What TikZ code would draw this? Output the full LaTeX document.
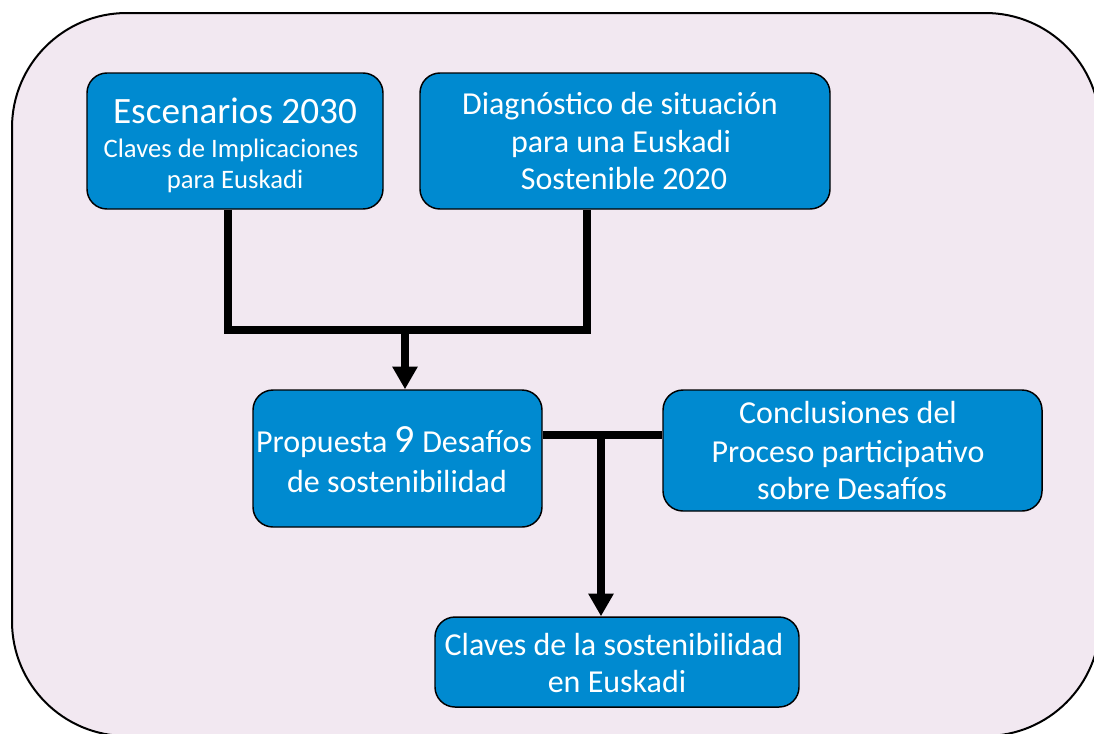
\documentclass[tikz,border=0pt]{standalone}
\usepackage{fontspec}
\setmainfont{Carlito}
\usetikzlibrary{arrows.meta}
\definecolor{bgpink}{RGB}{242,232,241}
\definecolor{boxblue}{RGB}{0,138,208}
\tikzset{
  outerbox/.style={draw=black, line width=1.5pt, fill=bgpink, rounded corners=86pt},
  bluebox/.style={draw=black, line width=1.1pt, fill=boxblue, rounded corners=15pt, inner sep=0pt},
  txt/.style={text=white, anchor=base, inner sep=0pt},
  conn/.style={line width=5.5pt, line join=miter, draw=black},
  arr/.style={-{Triangle[width=18pt,length=17pt]}},
}
\begin{document}
\begin{tikzpicture}[x=0.75pt,y=-0.75pt]
\useasboundingbox (0,0) rectangle (1094,733);
\begin{scope}
\clip (0,0) rectangle (1094,733);
\draw[outerbox] (12,13) rectangle (1100,736);
\end{scope}
% boxes
\node[bluebox, minimum width=296*0.75pt, minimum height=136*0.75pt] (e) at (235,141) {};
\node[bluebox, minimum width=410*0.75pt, minimum height=136*0.75pt] (d) at (625,141) {};
\node[bluebox, minimum width=289*0.75pt, minimum height=137*0.75pt] (p) at (397.5,458.5) {};
\node[bluebox, minimum width=379*0.75pt, minimum height=121*0.75pt] (c) at (852.5,450.5) {};
\node[bluebox, minimum width=364*0.75pt, minimum height=90*0.75pt] (k) at (617,662) {};
% texts
\node[txt, font=\fontsize{27.9pt}{33pt}\selectfont] (e1) at (235,123) {Escenarios 2030};
\node[txt, font=\fontsize{20pt}{24pt}\selectfont] (e2) at (231,157) {Claves de Implicaciones};
\node[txt, font=\fontsize{20pt}{24pt}\selectfont] (e3) at (235,188) {para Euskadi};
\node[txt, font=\fontsize{24pt}{29pt}\selectfont] (d1) at (620,114) {Diagnóstico de situación};
\node[txt, font=\fontsize{24pt}{29pt}\selectfont] (d2) at (621,152) {para una Euskadi};
\node[txt, font=\fontsize{24pt}{29pt}\selectfont] (d3) at (624,189) {Sostenible 2020};
\node[txt, font=\fontsize{24pt}{29pt}\selectfont] (p1) at (394,452) {Propuesta {\fontsize{30pt}{36pt}\selectfont 9} Desafíos};
\node[txt, font=\fontsize{24pt}{29pt}\selectfont] (p2) at (397,492) {de sostenibilidad};
\node[txt, font=\fontsize{24pt}{29pt}\selectfont] (c1) at (848,423) {Conclusiones del};
\node[txt, font=\fontsize{24pt}{29pt}\selectfont] (c2) at (848,462) {Proceso participativo};
\node[txt, font=\fontsize{24pt}{29pt}\selectfont] (c3) at (852,499) {sobre Desafíos};
\node[txt, font=\fontsize{24pt}{29pt}\selectfont] (k1) at (614,655) {Claves de la sostenibilidad};
\node[txt, font=\fontsize{24pt}{29pt}\selectfont] (k2) at (617,692) {en Euskadi};
% junctions
\coordinate (j1) at (228,330);
\coordinate (j2) at (587,330);
\coordinate (j3) at (405,330);
\coordinate (j4) at (601,435);
% connectors
\draw[conn] (j1 |- e.south) -- (j1) -- (j2) -- (j2 |- d.south);
\draw[conn, arr] (j3) -- (j3 |- p.north);
\draw[conn] (p.east |- j4) -- (c.west |- j4);
\draw[conn, arr] (j4) -- (j4 |- k.north);
\end{tikzpicture}
\end{document}
